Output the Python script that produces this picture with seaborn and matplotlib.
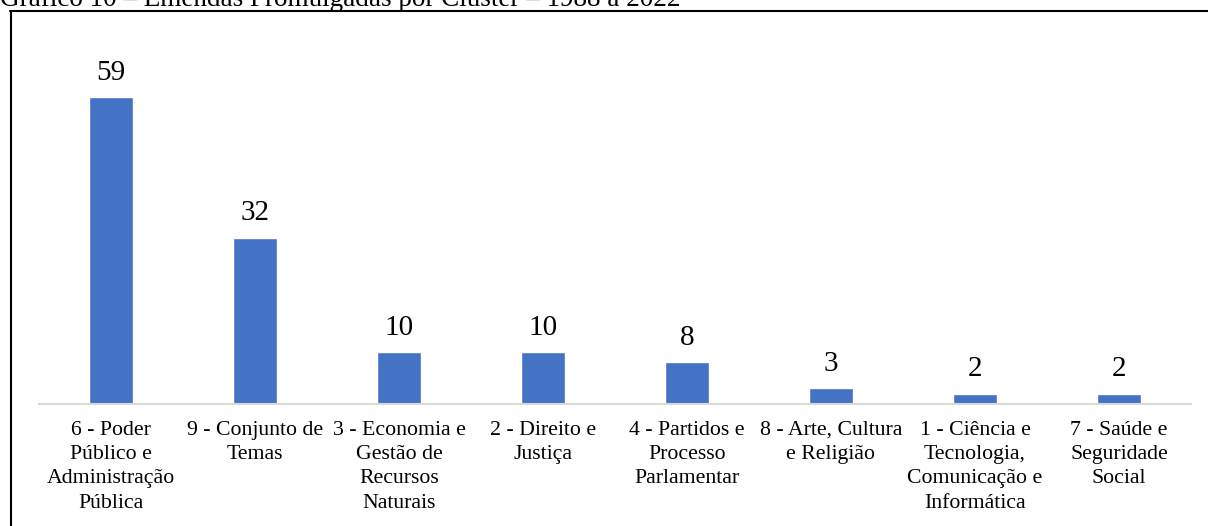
import matplotlib
matplotlib.use("Agg")
import matplotlib.pyplot as plt
from matplotlib.lines import Line2D
import seaborn as sns
import pandas as pd

# Clusters (wrapped labels) and number of promulgated amendments
categories = [
    "6 - Poder\nPúblico e\nAdministração\nPública",
    "9 - Conjunto de\nTemas",
    "3 - Economia e\nGestão de\nRecursos\nNaturais",
    "2 - Direito e\nJustiça",
    "4 - Partidos e\nProcesso\nParlamentar",
    "8 - Arte, Cultura\ne Religião",
    "1 - Ciência e\nTecnologia,\nComunicação e\nInformática",
    "7 - Saúde e\nSeguridade\nSocial",
]
values = [59, 32, 10, 10, 8, 3, 2, 2]
title = "Gráfico 10 – Emendas Promulgadas por Cluster – 1988 a 2022"

df = pd.DataFrame({"cluster": categories, "emendas": values})

sns.set_theme(style="white")
plt.rcParams["font.family"] = ["Liberation Serif", "DejaVu Serif"]

W, H = 1208, 526
fig = plt.figure(figsize=(W / 100, H / 100), dpi=100)
ax = fig.add_axes([39 / W, 1 - 404 / H, 1152 / W, 338 / H])

sns.barplot(data=df, x="cluster", y="emendas", color="#4472C4",
            width=0.31, saturation=1, ax=ax)

ax.set_ylim(0, 65)
ax.set_xlim(-0.5, len(categories) - 0.5)
ax.set_xlabel("")
ax.set_ylabel("")
ax.set_yticks([])
for side in ["top", "right", "left"]:
    ax.spines[side].set_visible(False)
ax.spines["bottom"].set_color("#D9D9D9")
ax.spines["bottom"].set_linewidth(1.5)
ax.tick_params(axis="x", length=0, pad=12)
ax.set_xticks(range(len(categories)))
ax.set_xticklabels(categories, fontsize=15.7, color="black", linespacing=1.38)

for i, v in enumerate(values):
    ax.annotate(str(v), (i, v), xytext=(0, 8), textcoords="offset points",
                ha="center", va="bottom", fontsize=21, color="black")

# Title clipped at the upper edge, and frame lines
fig.text(0, 1 - 6 / H, title, ha="left", va="baseline", fontsize=19.5, color="black")
fig.add_artist(Line2D([10 / W, 1.0], [1 - 10.5 / H, 1 - 10.5 / H], color="black", lw=1.5))
fig.add_artist(Line2D([10.5 / W, 10.5 / W], [0, 1 - 10.5 / H], color="black", lw=1.5))

fig.savefig("out.png", dpi=100, facecolor="white")
